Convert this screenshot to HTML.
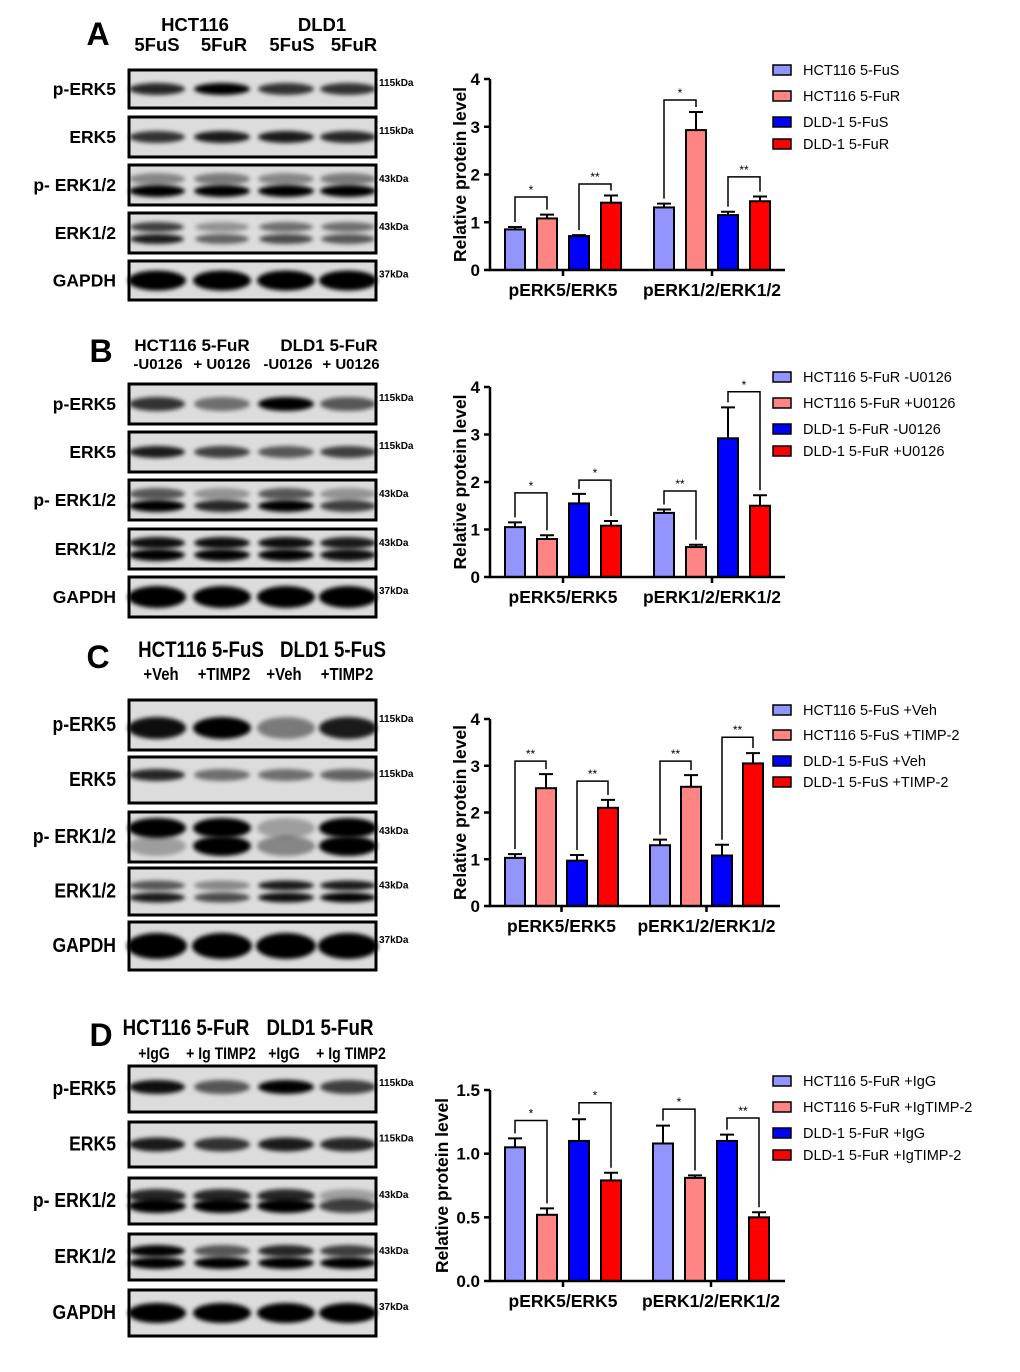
<!DOCTYPE html>
<html><head><meta charset="utf-8">
<style>
html,body{margin:0;padding:0;background:#fff;}
svg{display:block;font-family:"Liberation Sans",Arial,sans-serif;}
</style></head>
<body>
<svg id="fig" width="1020" height="1372" viewBox="0 0 1020 1372" xmlns="http://www.w3.org/2000/svg">
<defs>
<filter id="blur" x="-50%" y="-100%" width="200%" height="300%"><feGaussianBlur stdDeviation="2.2"/></filter>
</defs>
</svg>
<script>
// ---- chart data ----
const categories = ['pERK5/ERK5', 'pERK1/2/ERK1/2'];
const aLegend = ['HCT116 5-FuS', 'HCT116 5-FuR', 'DLD-1 5-FuS', 'DLD-1 5-FuR'];
const aValues = [[0.85, 1.08, 0.71, 1.41], [1.31, 2.93, 1.15, 1.44]];
const aErrors = [[0.05, 0.08, 0.02, 0.15], [0.08, 0.38, 0.07, 0.10]];
const aBrackets = [[0, 0, 1, 1.53, '*'], [0, 2, 3, 1.80, '**'], [1, 0, 1, 3.56, '*'], [1, 2, 3, 1.95, '**']];
const aTicks = [0, 1, 2, 3, 4];
const aTickLabels = ['0', '1', '2', '3', '4'];

const bLegend = ['HCT116 5-FuR -U0126', 'HCT116 5-FuR +U0126', 'DLD-1 5-FuR -U0126', 'DLD-1 5-FuR +U0126'];
const bValues = [[1.05, 0.80, 1.55, 1.08], [1.35, 0.63, 2.92, 1.50]];
const bErrors = [[0.10, 0.08, 0.20, 0.10], [0.07, 0.05, 0.65, 0.22]];
const bBrackets = [[0, 0, 1, 1.77, '*'], [0, 2, 3, 2.04, '*'], [1, 0, 1, 1.81, '**'], [1, 2, 3, 3.90, '*']];
const bTicks = [0, 1, 2, 3, 4];
const bTickLabels = ['0', '1', '2', '3', '4'];

const cLegend = ['HCT116 5-FuS +Veh', 'HCT116 5-FuS +TIMP-2', 'DLD-1 5-FuS +Veh', 'DLD-1 5-FuS +TIMP-2'];
const cValues = [[1.03, 2.52, 0.97, 2.10], [1.30, 2.55, 1.08, 3.05]];
const cErrors = [[0.08, 0.30, 0.12, 0.17], [0.12, 0.25, 0.23, 0.22]];
const cBrackets = [[0, 0, 1, 3.10, '**'], [0, 2, 3, 2.67, '**'], [1, 0, 1, 3.10, '**'], [1, 2, 3, 3.61, '**']];
const cTicks = [0, 1, 2, 3, 4];
const cTickLabels = ['0', '1', '2', '3', '4'];

const dLegend = ['HCT116 5-FuR +IgG', 'HCT116 5-FuR +IgTIMP-2', 'DLD-1 5-FuR +IgG', 'DLD-1 5-FuR +IgTIMP-2'];
const dValues = [[1.05, 0.52, 1.10, 0.79], [1.08, 0.81, 1.10, 0.50]];
const dErrors = [[0.07, 0.05, 0.17, 0.06], [0.14, 0.02, 0.05, 0.04]];
const dBrackets = [[0, 0, 1, 1.26, '*'], [0, 2, 3, 1.40, '*'], [1, 0, 1, 1.35, '*'], [1, 2, 3, 1.28, '**']];
const dTicks = [0, 0.5, 1.0, 1.5];
const dTickLabels = ['0.0', '0.5', '1.0', '1.5'];

const seriesColors = ['#9494ff', '#ff8585', '#0000ff', '#ff0000'];

const svg = document.getElementById('fig');
const NS = 'http://www.w3.org/2000/svg';
function el(tag, attrs, parent, text) {
  const e = document.createElementNS(NS, tag);
  for (const k in attrs) e.setAttribute(k, attrs[k]);
  if (text !== undefined) e.textContent = text;
  (parent || svg).appendChild(e);
  return e;
}

function chart(id, cfg) {
  const g = el('g', {});
  
  
  const yScale = v => cfg.yBot - (v / cfg.ymax) * (cfg.yBot - cfg.yTop);
  const barX = (gi, si) => cfg.groupX[gi] + si * cfg.step;
  const bw = 20;
  cfg.values.forEach((vals, gi) => vals.forEach((v, si) => {
    const x = barX(gi, si), y = yScale(v);
    const r = el('rect', {x: x, y: y, width: bw, height: cfg.yBot - y, fill: seriesColors[si], stroke: '#000', 'stroke-width': 2}, g);
    
    
    const ye = yScale(v + cfg.errors[gi][si]);
    const eb = el('path', {d: `M${x + bw / 2} ${y}V${ye}M${x + 3} ${ye}H${x + bw - 3}`, stroke: '#000', 'stroke-width': 2, fill: 'none'}, g);
    
    
  }));
  cfg.brackets.forEach(b => {
    const [gi, i, j, lvl, lab] = b;
    const xi = barX(gi, i) + bw / 2, xj = barX(gi, j) + bw / 2;
    const yi = yScale(cfg.values[gi][i] + cfg.errors[gi][i]) - 5;
    const yj = yScale(cfg.values[gi][j] + cfg.errors[gi][j]) - 5;
    const yl = yScale(lvl);
    const p = el('path', {d: `M${xi} ${yi}V${yl}H${xj}V${yj}`, stroke: '#000', 'stroke-width': 1.5, fill: 'none'}, g);
    
    
    const t = el('text', {x: (xi + xj) / 2, y: yl - 3, 'font-size': 12, 'text-anchor': 'middle'}, g, lab);
    
    
  });
  const ax = el('path', {d: `M${cfg.x0} ${cfg.yTop}V${cfg.yBot}H${cfg.xEnd}`, stroke: '#000', 'stroke-width': 2.5, fill: 'none'}, g);
  
  
  cfg.ticks.forEach((t, k) => {
    const y = yScale(t);
    el('line', {x1: cfg.x0 - 6, x2: cfg.x0, y1: y, y2: y, stroke: '#000', 'stroke-width': 2.5}, g);
    const tl = el('text', {x: cfg.x0 - 10, y: y + 6, 'font-size': 17, 'font-weight': 'bold', 'text-anchor': 'end'}, g, cfg.tickLabels[k]);
    
    
  });
  categories.forEach((c, gi) => {
    const cx = barX(gi, 0) + (3 * cfg.step + bw) / 2;
    el('line', {x1: cx, x2: cx, y1: cfg.yBot, y2: cfg.yBot + 6, stroke: '#000', 'stroke-width': 2.5}, g);
    const tl = el('text', {x: cx, y: cfg.yBot + 26, 'font-size': 17.5, 'font-weight': 'bold', 'text-anchor': 'middle'}, g, c);
    
    
  });
  const yt = el('text', {x: 0, y: 0, 'font-size': 17.5, 'font-weight': 'bold', 'text-anchor': 'middle', transform: `translate(${cfg.titleX},${(cfg.yTop + cfg.yBot) / 2}) rotate(-90)`}, g, 'Relative protein level');
  
  
  cfg.legend.forEach((l, i) => {
    const y = cfg.legendY[i];
    const r = el('rect', {x: 773, y: y - 5, width: 18, height: 10, fill: seriesColors[i], stroke: '#000', 'stroke-width': 1.5}, g);
    
    
    const t = el('text', {x: 803, y: y + 5, 'font-size': 14.5}, g, l);
    
    
  });
}

chart('panel-a', {x0: 490, xEnd: 785, yTop: 79, yBot: 270, ymax: 4, ticks: aTicks, tickLabels: aTickLabels, values: aValues, errors: aErrors, brackets: aBrackets, groupX: [505, 654], step: 32, legend: aLegend, legendY: [70, 96, 122, 144], titleX: 466});
chart('panel-b', {x0: 490, xEnd: 785, yTop: 387, yBot: 577, ymax: 4, ticks: bTicks, tickLabels: bTickLabels, values: bValues, errors: bErrors, brackets: bBrackets, groupX: [505, 654], step: 32, legend: bLegend, legendY: [377, 403, 429, 451], titleX: 466});
chart('panel-c', {x0: 490, xEnd: 780, yTop: 719, yBot: 906, ymax: 4, ticks: cTicks, tickLabels: cTickLabels, values: cValues, errors: cErrors, brackets: cBrackets, groupX: [505, 650], step: 31, legend: cLegend, legendY: [710, 735, 761, 782], titleX: 466});
chart('panel-d', {x0: 490, xEnd: 785, yTop: 1090, yBot: 1281, ymax: 1.5, ticks: dTicks, tickLabels: dTickLabels, values: dValues, errors: dErrors, brackets: dBrackets, groupX: [505, 653], step: 32, legend: dLegend, legendY: [1081, 1107, 1133, 1155], titleX: 448});

// ---- western blots ----
const lanes = [157, 222, 286, 348];
function blot(id, letter, letterY, head1, head1Y, head2, head2Y, rows, condensed, s1, s2) {
  const g = el('g', {});
  
  
  const L = el('text', {x: letter[1], y: letterY, 'font-size': 32, 'font-weight': 'bold', 'text-anchor': 'middle'}, g, letter[0]);
  
  
  const sx = condensed ? 0.85 : 1;
  head1.forEach(h => {
    const t = el('text', {x: h[1] / sx, y: head1Y, 'font-size': s1, 'font-weight': 'bold', 'text-anchor': 'middle', transform: `scale(${sx},1)`}, g, h[0]);
    
    
  });
  head2.forEach(h => {
    const t = el('text', {x: h[1] / sx, y: head2Y, 'font-size': s2, 'font-weight': 'bold', 'text-anchor': 'middle', transform: `scale(${sx},1)`}, g, h[0]);
    
    
  });
  rows.forEach(r => {
    const [name, y0, y1, kda, bands] = r;
    const bg = el('rect', {x: 129, y: y0, width: 247, height: y1 - y0, fill: '#dcdcdc', stroke: '#000', 'stroke-width': 3}, g);
    
    
    bands.forEach(b => {
      const [li, dy, op, rx, ry] = b;
      el('ellipse', {cx: lanes[li], cy: (y0 + y1) / 2 + dy, rx: rx, ry: ry, fill: '#050505', opacity: Math.min(1, op * 1.1), filter: 'url(#blur)'}, g);
    });
    const fs = condensed ? 20 : 17.5;
    const t = el('text', {x: 116 / (condensed ? 0.88 : 1), y: (y0 + y1) / 2 + 6, 'font-size': fs, 'font-weight': 'bold', 'text-anchor': 'end', transform: condensed ? 'scale(0.88,1)' : ''}, g, name);
    
    
    const k = el('text', {x: 379, y: (y0 + y1) / 2 - 3, 'font-size': 10, 'font-weight': 'bold'}, g, kda);
    
    
  });
}
const one = (ops, rx, ry, dy) => ops.map((o, i) => [i, dy || 0, o, rx, ry]);
const two = (up, lo, rx, ry, sep) => up.map((o, i) => [i, -sep, o, rx, ry]).concat(lo.map((o, i) => [i, sep, o, rx, ry]));

blot('panel-a', ['A', 98], 45, [['HCT116', 195], ['DLD1', 322]], 31, [['5FuS', 157], ['5FuR', 224], ['5FuS', 292], ['5FuR', 354]], 51, [
  ['p-ERK5', 70, 108, '115kDa', one([0.75, 1, 0.7, 0.7], 28, 6)],
  ['ERK5', 117, 157, '115kDa', one([0.7, 0.8, 0.8, 0.75], 28, 6)],
  ['p- ERK1/2', 165, 205, '43kDa', two([0.35, 0.4, 0.35, 0.4], [1, 1, 1, 1], 28, 6, 6)],
  ['ERK1/2', 213, 253, '43kDa', two([0.65, 0.3, 0.45, 0.45], [0.8, 0.5, 0.6, 0.55], 27, 5, 6)],
  ['GAPDH', 261, 300, '37kDa', one([1, 1, 1, 1], 29, 10)]
], false, 18.5, 18.5);

blot('panel-b', ['B', 101], 362, [['HCT116 5-FuR', 192], ['DLD1 5-FuR', 329]], 351, [['-U0126', 158], ['+ U0126', 222], ['-U0126', 288], ['+ U0126', 351]], 369, [
  ['p-ERK5', 384, 424, '115kDa', one([0.7, 0.45, 1, 0.55], 28, 7)],
  ['ERK5', 432, 472, '115kDa', one([0.8, 0.65, 0.55, 0.65], 28, 6)],
  ['p- ERK1/2', 480, 520, '43kDa', two([0.55, 0.3, 0.55, 0.3], [1, 0.75, 1, 0.65], 28, 6, 6)],
  ['ERK1/2', 529, 569, '43kDa', two([0.85, 0.85, 0.85, 0.8], [0.95, 0.9, 0.9, 0.85], 28, 6, 6)],
  ['GAPDH', 577, 617, '37kDa', one([1, 1, 1, 1], 29, 11)]
], false, 17, 15);

blot('panel-c', ['C', 98], 668, [['HCT116 5-FuS', 201], ['DLD1 5-FuS', 333]], 657, [['+Veh', 161], ['+TIMP2', 224], ['+Veh', 284], ['+TIMP2', 347]], 680, [
  ['p-ERK5', 700, 750, '115kDa', one([0.85, 1, 0.4, 0.8], 29, 11, 3)],
  ['ERK5', 757, 803, '115kDa', one([0.75, 0.45, 0.45, 0.5], 28, 6, -5)],
  ['p- ERK1/2', 812, 862, '43kDa', two([0.95, 1, 0.25, 1], [0.25, 1, 0.35, 1], 29, 10, 9)],
  ['ERK1/2', 868, 915, '43kDa', two([0.55, 0.35, 0.8, 0.8], [0.8, 0.6, 0.85, 0.9], 28, 5, 6)],
  ['GAPDH', 922, 970, '37kDa', one([1, 1, 1, 1], 30, 13)]
], true, 22, 17.5);

blot('panel-d', ['D', 101], 1046, [['HCT116 5-FuR', 186], ['DLD1 5-FuR', 320]], 1035, [['+IgG', 154], ['+ Ig TIMP2', 221], ['+IgG', 284], ['+ Ig TIMP2', 351]], 1059, [
  ['p-ERK5', 1066, 1112, '115kDa', one([0.85, 0.55, 0.9, 0.65], 28, 7, -2)],
  ['ERK5', 1122, 1167, '115kDa', one([0.8, 0.7, 0.8, 0.75], 28, 7)],
  ['p- ERK1/2', 1178, 1224, '43kDa', two([0.75, 0.75, 0.75, 0.25], [1, 1, 1, 0.65], 29, 7, 5)],
  ['ERK1/2', 1234, 1280, '43kDa', two([0.9, 0.55, 0.75, 0.65], [1, 0.95, 0.95, 0.95], 28, 6, 6)],
  ['GAPDH', 1290, 1336, '37kDa', one([1, 1, 1, 1], 29, 10)]
], true, 22, 16.5);
</script>
</body></html>
